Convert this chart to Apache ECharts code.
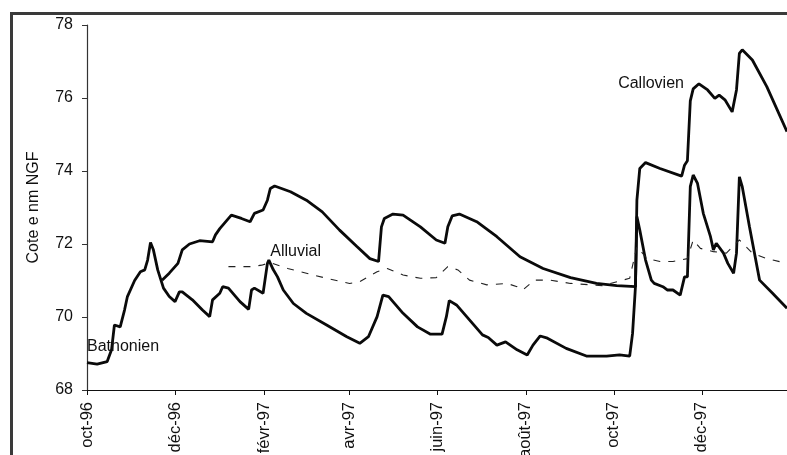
<!DOCTYPE html>
<html>
<head>
<meta charset="utf-8">
<script src="https://cdn.jsdelivr.net/npm/echarts@6/dist/echarts.min.js"></script>
<style>
html,body{margin:0;padding:0;background:#fff;}
#c{width:787px;height:455px;}
</style>
</head>
<body>
<div id="c"></div>
<script>
// x positions are days counted from 1 Oct 1996
var startDate = '1996-10-01';
var dayCount = 486;
var tickDates = ['1996-10-01','1996-12-01','1997-02-01','1997-04-01','1997-06-01','1997-08-01','1997-10-01','1997-12-01'];
var tickLabels = ['oct-96','déc-96','févr-97','avr-97','juin-97','août-97','oct-97','déc-97'];
var yTicks = [68, 70, 72, 74, 76, 78];

var bathonien = [
 [0,68.75],[7,68.71],[14,68.78],[17,69.1],[19,69.78],[23,69.73],[26,70.19],[28,70.56],[33,71.0],[37,71.24],
 [40,71.29],[42,71.56],[44,72.04],[46,71.84],[49,71.29],[53,70.79],[57,70.56],[61,70.42],[64,70.69],[66,70.69],
 [73,70.47],[80,70.19],[85,70.01],[87,70.47],[92,70.65],[94,70.83],[98,70.79],[106,70.42],[112,70.21],[114,70.74],
 [116,70.79],[122,70.65],[125,71.47],[126,71.56],[129,71.3],[132,71.1],[136,70.74],[143,70.37],[152,70.1],[166,69.78],[180,69.46],
 [189,69.28],[195,69.46],[201,70.01],[205,70.6],[209,70.56],[219,70.1],[229,69.73],[238,69.53],[246,69.53],[249,70.01],
 [251,70.45],[256,70.33],[265,69.92],[274,69.51],[278,69.44],[284,69.23],[290,69.32],[298,69.1],[305,68.96],[309,69.23],
 [314,69.48],[319,69.42],[332,69.14],[346,68.93],[360,68.93],[369,68.96],[376,68.93],[378,69.55],[380,70.83],[381,72.75],
 [383,72.38],[387,71.56],[391,71.01],[393,70.92],[399,70.83],[402,70.74],[406,70.74],[411,70.6],[414,71.1],[416,71.1],
 [418,73.57],[420,73.89],[423,73.66],[427,72.84],[432,72.2],[434,71.84],[436,72.02],[441,71.75],[444,71.47],[448,71.2],
 [450,71.75],[452,73.84],[454,73.57],[459,72.47],[466,71.01],[475,70.65],[485,70.24]
];

var callovien = [
 [52,71.01],[57,71.2],[63,71.47],[66,71.84],[71,72.0],[78,72.09],[87,72.06],[89,72.25],[92,72.42],[100,72.79],
 [107,72.7],[113,72.61],[116,72.84],[122,72.93],[125,73.2],[127,73.52],[130,73.59],[141,73.43],[152,73.2],[163,72.88],
 [175,72.38],[187,71.93],[196,71.6],[202,71.52],[204,72.47],[206,72.7],[212,72.82],[219,72.79],[231,72.47],[242,72.11],
 [248,72.02],[250,72.47],[253,72.77],[258,72.82],[270,72.61],[284,72.2],[300,71.65],[316,71.33],[335,71.08],[353,70.92],
 [367,70.86],[380,70.83],[381,73.2],[383,74.07],[387,74.23],[397,74.07],[412,73.86],[414,74.16],[416,74.28],[418,75.92],
 [420,76.25],[424,76.39],[430,76.22],[435,75.99],[438,76.08],[442,75.95],[447,75.62],[450,76.22],[452,77.22],[454,77.32],
 [461,77.04],[471,76.31],[485,75.08]
];

var alluvial = [
 [98,71.38],[113,71.38],[121,71.42],[127,71.49],[139,71.33],[152,71.2],[166,71.06],[182,70.92],[189,70.97],[201,71.24],
 [208,71.33],[219,71.15],[231,71.06],[242,71.08],[250,71.38],[257,71.29],[265,71.01],[277,70.88],[291,70.92],[298,70.83],
 [302,70.74],[310,71.01],[321,71.01],[335,70.92],[357,70.86],[376,71.06],[381,71.93],[388,71.6],[397,71.52],[406,71.52],
 [416,71.6],[420,72.11],[425,71.88],[434,71.79],[443,71.75],[452,72.11],[461,71.75],[471,71.6],[485,71.47]
];

var seriesNames = ['Bathonien', 'Callovien', 'Alluvial'];
var labelAnchors = [[0, 69.18], [368, 76.40], [127, 71.79]];

var categories = [];
(function(){
  var t0 = Date.UTC(1996, 9, 1);
  for (var i = 0; i < dayCount; i++) {
    var d = new Date(t0 + i * 86400000);
    var m = d.getUTCMonth() + 1, dd = d.getUTCDate();
    categories.push(d.getUTCFullYear() + '-' + (m < 10 ? '0' : '') + m + '-' + (dd < 10 ? '0' : '') + dd);
  }
})();

var FONT = "'Liberation Sans', Arial, sans-serif";
var chart = echarts.init(document.getElementById('c'), null, {renderer: 'canvas'});
function isTick(idx, val) { return tickDates.indexOf(val) >= 0; }

chart.setOption({
  animation: false,
  backgroundColor: '#fff',
  grid: {left: 87, top: 25, right: 0, bottom: 65, containLabel: false, outerBoundsMode: 'none'},
  xAxis: {
    type: 'category',
    data: categories,
    boundaryGap: false,
    axisLine: {show: true, lineStyle: {color: '#111', width: 1.2}},
    axisTick: {show: true, interval: isTick, length: 5, lineStyle: {color: '#111'}},
    axisLabel: {
      interval: isTick, rotate: 90, margin: 12,
      fontFamily: FONT, fontSize: 16.5, color: '#111',
      formatter: function(v){ var k = tickDates.indexOf(v); return k >= 0 ? tickLabels[k] : ''; }
    },
    splitLine: {show: false}
  },
  yAxis: {
    type: 'value', min: yTicks[0], max: yTicks[yTicks.length-1], interval: 2,
    name: 'Cote e nm NGF', nameLocation: 'middle', nameGap: 45,
    nameTextStyle: {fontFamily: FONT, fontSize: 16, color: '#111'},
    axisLine: {show: true, lineStyle: {color: '#333', width: 1.2}},
    axisTick: {show: true, length: 5, lineStyle: {color: '#333'}},
    axisLabel: {fontFamily: FONT, fontSize: 16, color: '#111', margin: 14},
    splitLine: {show: false}
  },
  series: [
    {name: seriesNames[0], type: 'line', data: bathonien, showSymbol: false, smooth: false,
     lineStyle: {color: '#0a0a0a', width: 2.8}},
    {name: seriesNames[1], type: 'line', data: callovien, showSymbol: false, smooth: false,
     lineStyle: {color: '#0a0a0a', width: 2.8}},
    {name: seriesNames[2], type: 'line', data: alluvial, showSymbol: false, smooth: false,
     lineStyle: {color: '#222', width: 1.1, type: [7, 8]}}
  ]
});

var graphics = [{
  type: 'rect', silent: true,
  shape: {x: 11.5, y: 13.5, width: 900, height: 600},
  style: {fill: 'none', stroke: '#3a3a3a', lineWidth: 3}
}];
for (var i = 0; i < seriesNames.length; i++) {
  var p = chart.convertToPixel({gridIndex: 0}, labelAnchors[i]);
  graphics.push({
    type: 'text', x: p[0], y: p[1], z: 100,
    style: {text: seriesNames[i], fontFamily: FONT, fontSize: 16, fill: '#111',
            textAlign: 'left', textVerticalAlign: 'middle'}
  });
}
chart.setOption({graphic: graphics});
</script>
</body>
</html>
